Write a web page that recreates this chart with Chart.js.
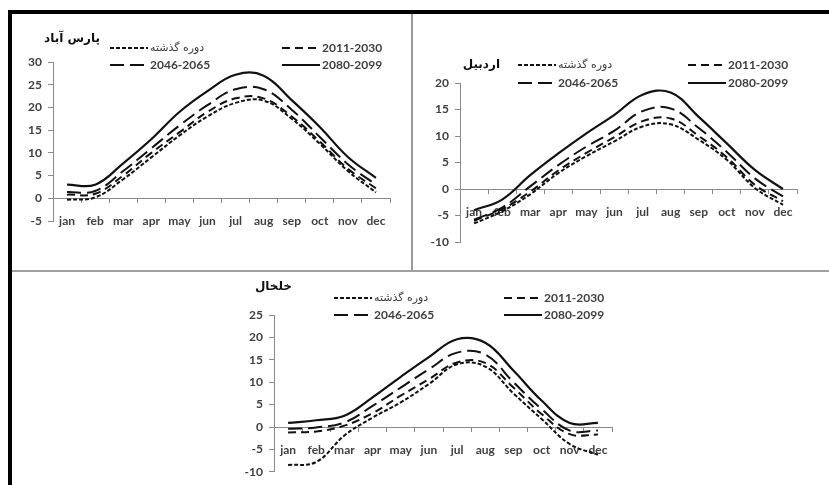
<!DOCTYPE html>
<html>
<head>
<meta charset="utf-8">
<script src="https://cdn.jsdelivr.net/npm/chart.js@4.4.1/dist/chart.umd.min.js"></script>
<style>
  html, body { margin: 0; padding: 0; background: #fff; }
  #page { position: relative; width: 829px; height: 485px; overflow: hidden; background: #fff; }
  canvas { position: absolute; display: block; }
  .rule { position: absolute; }
</style>
</head>
<body>
<div id="page">
  <canvas id="parsabad" width="400" height="258" style="left:12px;top:13px"></canvas>
  <canvas id="ardabil" width="413" height="258" style="left:413px;top:13px"></canvas>
  <canvas id="khalkhal" width="817" height="213" style="left:12px;top:272px"></canvas>

  <div class="rule" style="left:8px;top:10px;right:0;height:4px;background:#000"></div>
  <div class="rule" style="left:8px;top:10px;width:4px;bottom:0;background:#000"></div>
  <div class="rule" style="left:411px;top:14px;width:2px;height:258px;background:#9a9a9a"></div>
  <div class="rule" style="left:12px;top:270px;right:0;height:2px;background:#a0a0a0"></div>
</div>

<script>
// Months on the category axis
const months = ['jan', 'feb', 'mar', 'apr', 'may', 'jun', 'jul', 'aug', 'sep', 'oct', 'nov', 'dec'];

// Period names (legend)
const periods = ['دوره گذشته', '2011-2030', '2046-2065', '2080-2099'];

// Mean monthly temperature (°C) — Parsabad
const parsabadPast = [-0.3, 0.2, 4.2, 9.0, 13.8, 18.0, 21.0, 21.5, 17.5, 12.0, 6.0, 1.3];
const parsabad2011 = [0.8, 1.0, 5.0, 10.0, 14.5, 19.0, 22.0, 22.0, 18.0, 12.5, 6.5, 2.2];
const parsabad2046 = [1.4, 1.6, 6.0, 11.0, 16.0, 20.5, 24.0, 24.0, 19.5, 13.5, 7.5, 3.0];
const parsabad2080 = [3.0, 3.0, 7.7, 13.0, 19.0, 23.6, 27.2, 27.0, 21.6, 15.7, 9.1, 4.5];

// Mean monthly temperature (°C) — Ardabil
const ardabilPast = [-6.5, -4.2, -1.0, 3.0, 6.2, 9.0, 11.8, 12.2, 9.3, 5.5, 0.2, -3.0];
const ardabil2011 = [-6.0, -3.8, -0.5, 3.5, 6.8, 9.8, 12.8, 13.3, 10.0, 6.0, 0.8, -2.3];
const ardabil2046 = [-5.8, -3.5, 0.5, 4.5, 8.0, 11.0, 14.7, 15.2, 11.5, 7.0, 2.0, -1.4];
const ardabil2080 = [-4.0, -2.0, 2.6, 6.7, 10.5, 14.0, 17.8, 18.2, 13.6, 8.6, 3.6, 0.0];

// Mean monthly temperature (°C) — Khalkhal
const khalkhalPast = [-8.5, -7.8, -1.9, 2.1, 5.5, 9.6, 14.0, 13.5, 7.5, 1.8, -3.8, -6.2];
const khalkhal2011 = [-1.2, -1.0, 0.3, 3.1, 7.0, 10.7, 14.4, 14.3, 8.8, 2.9, -1.6, -1.7];
const khalkhal2046 = [-0.4, -0.1, 1.0, 4.7, 8.8, 12.9, 16.6, 16.2, 10.0, 4.0, -0.8, -0.8];
const khalkhal2080 = [0.9, 1.5, 2.5, 6.6, 11.2, 15.6, 19.6, 18.8, 12.6, 5.9, 0.9, 0.9];

// Line style per period
const dashPatterns = [[4, 2], [8, 5], [14, 6], []];

const tickFont = { family: 'Lato', size: 12, weight: 'bold' };
const axisGrey = '#8a8a8a';

// Station name and a two-by-two key, drawn onto the canvas
const panelKey = {
  id: 'panelKey',
  afterDraw(chart, args, opts) {
    const ctx = chart.ctx;
    ctx.save();
    ctx.textBaseline = 'middle';
    ctx.fillStyle = '#111';
    ctx.font = 'bold 12px "DejaVu Sans"';
    ctx.textAlign = 'right';
    ctx.fillText(opts.title, opts.titleX, opts.titleY);

    chart.data.datasets.forEach((ds, i) => {
      const x0 = opts.cols[i % 2];
      const y = opts.rows[Math.floor(i / 2)];
      ctx.beginPath();
      ctx.setLineDash(ds.borderDash || []);
      ctx.lineWidth = ds.borderWidth;
      ctx.strokeStyle = ds.borderColor;
      ctx.moveTo(x0, y);
      ctx.lineTo(x0 + opts.sample, y);
      ctx.stroke();
      ctx.setLineDash([]);
      const persian = /[\u0600-\u06FF]/.test(ds.label);
      ctx.font = persian ? '11px "DejaVu Sans"' : 'bold 12px Lato';
      ctx.fillStyle = persian ? '#3a3a3a' : '#404040';
      ctx.textAlign = 'left';
      ctx.fillText(ds.label, x0 + opts.sample + 2, y);
    });
    ctx.restore();
  }
};

function makePanel(canvasId, series, yMin, yMax, padding, key) {
  return new Chart(document.getElementById(canvasId), {
    type: 'line',
    data: {
      labels: months,
      datasets: series.map((values, i) => ({
        label: periods[i],
        data: values,
        borderColor: '#111',
        borderWidth: i === 3 ? 2.2 : 2,
        borderDash: dashPatterns[i],
        pointRadius: 0,
        tension: 0.4,
        fill: false
      }))
    },
    options: {
      responsive: false,
      animation: false,
      devicePixelRatio: 1,
      layout: { padding },
      plugins: {
        legend: { display: false },
        title: { display: false },
        tooltip: { enabled: false },
        panelKey: key
      },
      scales: {
        x: {
          type: 'category',
          position: { y: 0 },
          offset: true,
          grid: { display: true, drawOnChartArea: false, drawTicks: true, tickLength: 4, color: axisGrey, offset: true },
          border: { display: true, color: axisGrey, width: 1 },
          ticks: { padding: 12, font: tickFont, color: '#404040', maxRotation: 0, autoSkip: false },
          afterFit(scale) { scale.height = 0; }
        },
        y: {
          position: 'left',
          min: yMin,
          max: yMax,
          grid: { display: true, drawOnChartArea: false, drawTicks: true, tickLength: 5, color: axisGrey },
          border: { display: true, color: axisGrey, width: 1 },
          ticks: { stepSize: 5, padding: 6, font: tickFont, color: '#404040' },
          afterFit(scale) { scale.width = 30; }
        }
      }
    },
    plugins: [panelKey]
  });
}

makePanel('parsabad',
  [parsabadPast, parsabad2011, parsabad2046, parsabad2080],
  -5, 30,
  { left: 11, right: 22, top: 49, bottom: 50 },
  { title: 'پارس آباد', titleX: 88, titleY: 26, cols: [98, 270], rows: [35, 52], sample: 38 });

makePanel('ardabil',
  [ardabilPast, ardabil2011, ardabil2046, ardabil2080],
  -10, 20,
  { left: 17, right: 29, top: 70, bottom: 29 },
  { title: 'اردبیل', titleX: 87, titleY: 52, cols: [105, 275], rows: [52, 70], sample: 38 });

makePanel('khalkhal',
  [khalkhalPast, khalkhal2011, khalkhal2046, khalkhal2080],
  -10, 25,
  { left: 232, right: 217, top: 43, bottom: 12 },
  { title: 'خلخال', titleX: 280, titleY: 15, cols: [322, 492], rows: [26, 43], sample: 38 });
</script>
</body>
</html>
